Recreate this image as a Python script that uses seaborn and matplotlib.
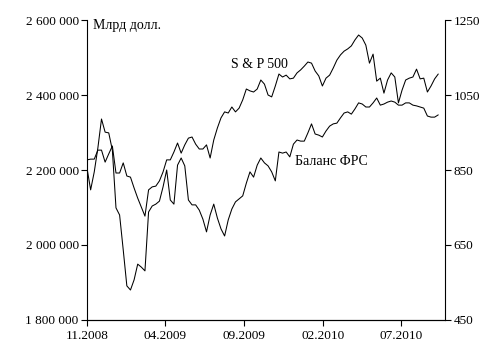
import numpy as np
import pandas as pd
import matplotlib
matplotlib.use("Agg")
import matplotlib.pyplot as plt
import matplotlib.dates as mdates
from matplotlib.ticker import FuncFormatter
import seaborn as sns

# weekly observations, Nov 2008 - Sep 2010
start_date = "2008-11-01"
n_weeks = 98

# Fed balance sheet, mln USD (left axis)
fed_balance = [
    2205000, 2147000, 2195000, 2259000, 2336000, 2301000, 2299000, 2253000, 2099000, 2080000,
    1987000, 1891000, 1880000, 1907000, 1949000, 1941000, 1931000, 2088000, 2104000, 2109000,
    2117000, 2155000, 2200000, 2120000, 2109000, 2213000, 2232000, 2211000, 2120000, 2107000,
    2107000, 2093000, 2069000, 2035000, 2080000, 2109000, 2072000, 2043000, 2024000, 2067000,
    2096000, 2115000, 2123000, 2131000, 2165000, 2195000, 2181000, 2213000, 2232000, 2219000,
    2211000, 2195000, 2171000, 2248000, 2245000, 2248000, 2235000, 2269000, 2280000, 2277000,
    2277000, 2299000, 2323000, 2296000, 2293000, 2288000, 2304000, 2317000, 2323000, 2325000,
    2339000, 2352000, 2355000, 2349000, 2363000, 2379000, 2376000, 2368000, 2368000, 2379000,
    2392000, 2373000, 2376000, 2381000, 2384000, 2381000, 2373000, 2373000, 2379000, 2379000,
    2373000, 2371000, 2368000, 2365000, 2344000, 2341000, 2341000, 2347000,
]

# S&P 500 index (right axis)
sp500 = [
    877, 879, 879, 903, 903, 871, 893, 914, 842, 842,
    869, 834, 831, 802, 775, 751, 727, 797, 805, 807,
    821, 845, 877, 877, 898, 922, 895, 917, 935, 938,
    919, 906, 906, 917, 882, 930, 962, 989, 1005, 1002,
    1018, 1005, 1015, 1037, 1066, 1061, 1058, 1066, 1090, 1079,
    1050, 1045, 1074, 1106, 1098, 1103, 1093, 1095, 1109, 1117,
    1127, 1138, 1135, 1114, 1101, 1074, 1095, 1103, 1122, 1143,
    1157, 1167, 1173, 1181, 1197, 1210, 1202, 1183, 1135, 1159,
    1087, 1095, 1055, 1090, 1109, 1098, 1029, 1063, 1090, 1095,
    1098, 1119, 1093, 1095, 1058, 1074, 1093, 1106,
]

left_ticks = [1800000, 2000000, 2200000, 2400000, 2600000]
right_ticks = [450, 650, 850, 1050, 1250]
tick_dates = ["2008-11-01", "2009-04-01", "2009-09-01", "2010-02-01", "2010-07-01"]
x_end = "2010-09-24"

df = pd.DataFrame({
    "date": pd.date_range(start_date, periods=n_weeks, freq="7D"),
    "balance": fed_balance,
    "sp500": sp500,
})

sns.set_style("ticks")
plt.rcParams["font.family"] = ["Liberation Serif", "DejaVu Serif"]
plt.rcParams["text.color"] = "black"
plt.rcParams["xtick.color"] = "black"
plt.rcParams["ytick.color"] = "black"
plt.rcParams["axes.edgecolor"] = "black"

fig, ax = plt.subplots(figsize=(4.93, 3.53), dpi=100)
fig.subplots_adjust(left=0.1765, right=0.9026, bottom=0.0935, top=0.9433)
ax2 = ax.twinx()

sns.lineplot(data=df, x="date", y="balance", ax=ax, color="black", lw=0.75)
sns.lineplot(data=df, x="date", y="sp500", ax=ax2, color="black", lw=0.75)

ax.set_ylim(left_ticks[0], left_ticks[-1])
ax2.set_ylim(right_ticks[0], right_ticks[-1])
ax.set_yticks(left_ticks)
ax2.set_yticks(right_ticks)
ax.yaxis.set_major_formatter(FuncFormatter(lambda v, p: f"{v:,.0f}".replace(",", " ")))

ax.set_xlim(pd.Timestamp(start_date), pd.Timestamp(x_end))
ax.set_xticks(pd.to_datetime(tick_dates))
ax.xaxis.set_major_formatter(mdates.DateFormatter("%m.%Y"))

for a in (ax, ax2):
    a.set_xlabel("")
    a.set_ylabel("")
    a.spines["top"].set_visible(False)
    a.tick_params(labelsize=9.5, length=4, width=0.8, pad=2)
    for s in a.spines.values():
        s.set_linewidth(0.8)
ax.spines["right"].set_visible(False)
ax2.spines["left"].set_visible(False)
ax.tick_params(axis="x", pad=3)

ax.text(0.017, 1.005, "Млрд долл.", transform=ax.transAxes, fontsize=10,
        ha="left", va="top")
ax.text(0.402, 0.853, "S & P 500", transform=ax.transAxes, fontsize=10,
        ha="left", va="center")
ax.text(0.581, 0.527, "Баланс ФРС", transform=ax.transAxes, fontsize=10,
        ha="left", va="center")

fig.savefig("out.png", dpi=100)
